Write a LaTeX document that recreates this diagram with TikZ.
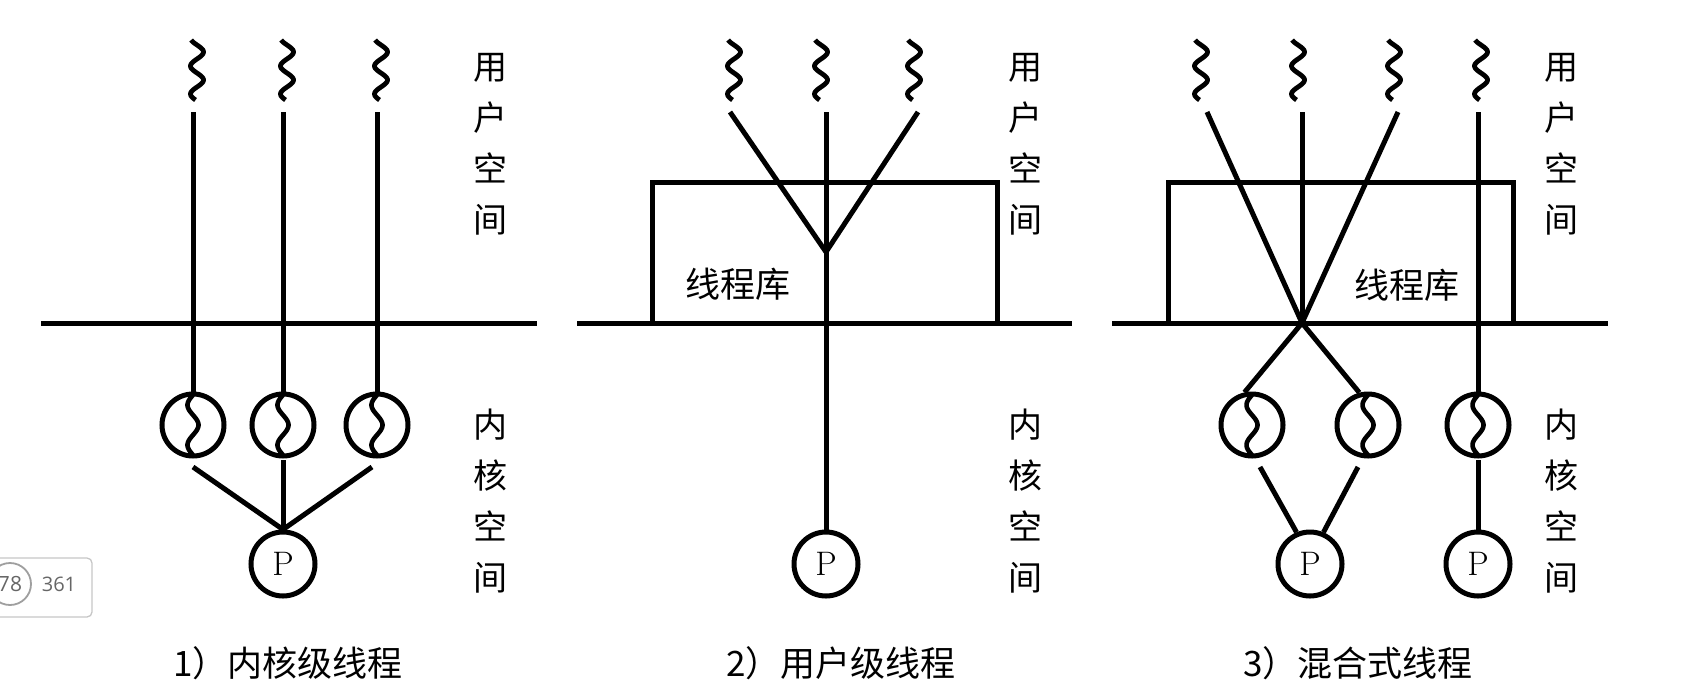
\documentclass[tikz,border=0pt]{standalone}
\usepackage{fontspec}
\newfontfamily\cjk{Noto Sans CJK SC}
\newfontfamily\badgefont{Open Sans}
\begin{document}
\begin{tikzpicture}[x=1pt,y=-1pt,
  wire/.style={line width=5pt},
  kc/.style={circle,draw,line width=5pt,minimum size=62pt,inner sep=0pt},
  pc/.style={circle,draw,line width=5pt,minimum size=64pt,inner sep=0pt,font=\fontsize{34}{34}\selectfont},
  libbox/.style={draw,line width=5pt,minimum width=345pt,minimum height=141pt,inner sep=0pt},
  vt/.style={align=center,inner sep=0pt,font=\cjk\fontsize{34}{51}\selectfont},
  libtxt/.style={inner sep=0pt,font=\cjk\fontsize{35}{35}\selectfont},
  captxt/.style={inner sep=0pt,font=\cjk\fontsize{35}{35}\selectfont},
  squig/.pic={\draw[line width=4.8pt] plot[domain=0:60,samples=50,smooth,variable=\t] ({6.5*sin(-64+\t*12.85)},{\t});},
  insq/.pic={\draw[line width=4.6pt] plot[domain=-30:30,samples=40,smooth,variable=\t] ({-5.5*sin((\t+30)*9)},{\t});}
]
\clip (0,0) rectangle (1690,697);
\useasboundingbox (0,0) rectangle (1690,697);

% ---------- badge ----------
\draw[gray!45,line width=1.3pt,rounded corners=5pt] (-10,558) rectangle (92,617);
\node[circle,draw=gray!75,line width=1.8pt,minimum size=42pt,inner sep=0pt,text=gray!80!black,font=\badgefont\fontsize{21}{21}\selectfont] (bc) at (10,584) {78};
\node[inner sep=0pt,text=gray!80!black,font=\badgefont\fontsize{20}{20}\selectfont] (bn) at (59,584) {361};

% ---------- panel 1 ----------
\coordinate (h1a) at (41,323); \coordinate (h1b) at (537,323);
\draw[wire] (h1a) -- (h1b);
\foreach \i/\x in {1/193,2/283,3/377}{
  \pic at (\x+4,40) {squig};
  \coordinate (u1\i) at (\x,112);
  \node[kc] (k1\i) at (\x,425) {};
  \pic at (\x,425) {insq};
  \draw[wire] (u1\i) -- (k1\i);
}
\node[pc] (p1) at (283,564) {P};
\coordinate (d11) at (193,467); \coordinate (d12) at (283,460); \coordinate (d13) at (372,467);
\draw[wire] (d11) -- (p1.north);
\draw[wire] (d12) -- (p1.north);
\draw[wire] (d13) -- (p1.north);
\node[vt] (us1) at (490,144) {用\\户\\空\\间};
\node[vt] (ks1) at (490,501) {内\\核\\空\\间};
\node[captxt] (c1) at (288,663) {1）内核级线程};

% ---------- panel 2 ----------
\coordinate (h2a) at (577,323); \coordinate (h2b) at (1072,323);
\node[libbox] (box2) at (824.5,252.5) {};
\draw[wire] (h2a) -- (h2b);
\coordinate (u21) at (730,112); \coordinate (u22) at (826,112); \coordinate (u23) at (918,112);
\pic at (734,40) {squig}; \pic at (821,40) {squig}; \pic at (914,40) {squig};
\coordinate (m2) at (826,252);
\node[pc] (p2) at (826,564) {P};
\draw[wire] (u21) -- (m2);
\draw[wire] (u23) -- (m2);
\draw[wire] (u22) -- (p2.north);
\node[libtxt] (lt2) at (738,284) {线程库};
\node[vt] (us2) at (1025,144) {用\\户\\空\\间};
\node[vt] (ks2) at (1025,501) {内\\核\\空\\间};
\node[captxt] (c2) at (841,663) {2）用户级线程};

% ---------- panel 3 ----------
\coordinate (h3a) at (1112,323); \coordinate (h3b) at (1608,323);
\node[libbox] (box3) at (1340.5,252.5) {};
\draw[wire] (h3a) -- (h3b);
\pic at (1201,40) {squig}; \pic at (1298,40) {squig}; \pic at (1394,40) {squig}; \pic at (1481,40) {squig};
\coordinate (u31) at (1207,112); \coordinate (u32) at (1302,112); \coordinate (u33) at (1398,112); \coordinate (u34) at (1478,112);
\coordinate (m3) at (1302,323);
\node[kc] (k31) at (1252,425) {}; \pic at (1252,425) {insq};
\node[kc] (k32) at (1368,425) {}; \pic at (1368,425) {insq};
\node[kc] (k33) at (1478,425) {}; \pic at (1478,425) {insq};
\draw[wire] (u31) -- (m3);
\draw[wire] (u32) -- (m3);
\draw[wire] (u33) -- (m3);
\draw[wire] (u34) -- (k33);
\draw[wire] (m3) -- (k31.103);
\draw[wire] (m3) -- (k32.105);
\node[pc] (p31) at (1310,564) {P};
\node[pc] (p32) at (1478,564) {P};
\coordinate (d31) at (1260,467); \coordinate (d32) at (1358,467); \coordinate (d33) at (1478,460);
\draw[wire] (d31) -- (p31.113);
\draw[wire] (d32) -- (p31.67);
\draw[wire] (d33) -- (p32.north);
\node[libtxt] (lt3) at (1407,285) {线程库};
\node[vt] (us3) at (1561,144) {用\\户\\空\\间};
\node[vt] (ks3) at (1561,501) {内\\核\\空\\间};
\node[captxt] (c3) at (1358,663) {3）混合式线程};
\end{tikzpicture}
\end{document}
